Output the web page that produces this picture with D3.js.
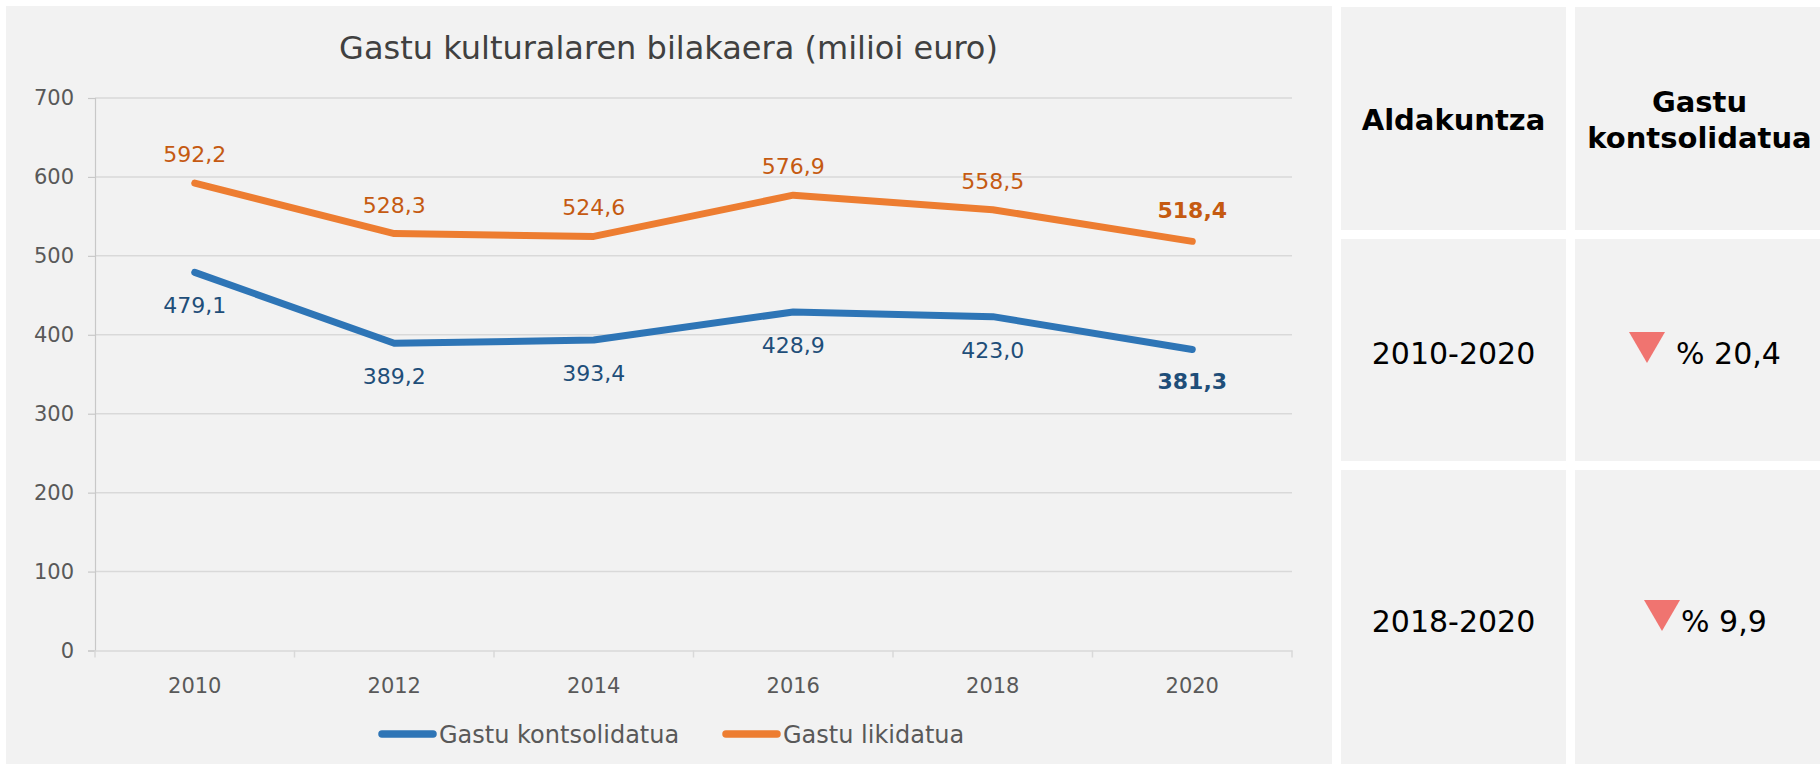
<!DOCTYPE html>
<html>
<head>
<meta charset="utf-8">
<script src="https://cdn.jsdelivr.net/npm/d3@7"></script>
<style>
  html, body { margin: 0; padding: 0; background: #ffffff; }
  svg { display: block; }
  text { font-family: "DejaVu Sans", Verdana, sans-serif; }
</style>
</head>
<body>
<svg id="chart" width="1820" height="764"></svg>
<script>
// ---- Data ----
const years = ["2010", "2012", "2014", "2016", "2018", "2020"];
const kontsolidatua = [479.1, 389.2, 393.4, 428.9, 423.0, 381.3];
const likidatua = [592.2, 528.3, 524.6, 576.9, 558.5, 518.4];
const seriesNames = ["Gastu kontsolidatua", "Gastu likidatua"];
const yTicks = [0, 100, 200, 300, 400, 500, 600, 700];
const chartTitle = "Gastu kulturalaren bilakaera (milioi euro)";
const tableHeaders = ["Aldakuntza", ["Gastu", "kontsolidatua"]];
const periods = ["2010-2020", "2018-2020"];
const changes = [20.4, 9.9];

// ---- Styles ----
const blue = "#2e75b6", orange = "#ed7d31";
const blueText = "#1f4e79", orangeText = "#c55a11";
const panelFill = "#f2f2f2";

const locale = d3.formatLocale({decimal: ",", thousands: ".", grouping: [3], currency: ["", "€"]});
const fmt = locale.format(".1f");

const svg = d3.select("#chart");

// Chart panel
svg.append("rect").attr("x", 6).attr("y", 6).attr("width", 1326).attr("height", 758).attr("fill", panelFill);

// Scales
const x = d3.scaleBand().domain(years).range([95, 1292]);
const y = d3.scaleLinear().domain([0, 700]).range([650.5, 98]);
const cx = d => x(d) + x.bandwidth() / 2;

// Title
svg.append("text").attr("x", 668.5).attr("y", 59).attr("text-anchor", "middle")
  .attr("font-size", 32).attr("fill", "#404040").text(chartTitle);

// Gridlines
svg.append("g").selectAll("line").data(yTicks.filter(t => t > 0)).join("line")
  .attr("x1", 95).attr("x2", 1292).attr("y1", d => y(d)).attr("y2", d => y(d))
  .attr("stroke", "#d9d9d9").attr("stroke-width", 1.5);

// Y axis
const yAxis = svg.append("g").attr("transform", "translate(95,0)")
  .call(d3.axisLeft(y).tickValues(yTicks).tickSize(7).tickPadding(14).tickFormat(d3.format("d")));
yAxis.select(".domain").attr("stroke", "#c8c8c8").attr("stroke-width", 1.2);
yAxis.selectAll(".tick line").attr("stroke", "#c8c8c8").attr("stroke-width", 1.2);
yAxis.selectAll(".tick text").attr("font-size", 21).attr("fill", "#595959")
  .attr("font-family", '"DejaVu Sans", Verdana, sans-serif');

// X axis
const xAxis = svg.append("g").attr("transform", `translate(0,${y(0)})`)
  .call(d3.axisBottom(x).tickSize(0).tickPadding(28));
xAxis.select(".domain").attr("stroke", "#d9d9d9").attr("stroke-width", 1.5);
xAxis.selectAll(".tick text").attr("font-size", 21).attr("fill", "#595959")
  .attr("font-family", '"DejaVu Sans", Verdana, sans-serif');
// category boundary tick marks
const bounds = years.map(d => x(d)).concat([x(years[years.length - 1]) + x.bandwidth()]);
svg.append("g").selectAll("line").data(bounds).join("line")
  .attr("x1", d => d).attr("x2", d => d).attr("y1", y(0)).attr("y2", y(0) + 7)
  .attr("stroke", "#d9d9d9").attr("stroke-width", 1.5);

// Lines
const line = d3.line().x((d, i) => cx(years[i])).y(d => y(d));
[[kontsolidatua, blue], [likidatua, orange]].forEach(([vals, col]) => {
  svg.append("path").datum(vals).attr("d", line).attr("fill", "none")
    .attr("stroke", col).attr("stroke-width", 7).attr("stroke-linecap", "round").attr("stroke-linejoin", "round");
});

// Data labels
const last = years.length - 1;
svg.append("g").selectAll("text").data(likidatua).join("text")
  .attr("x", (d, i) => cx(years[i])).attr("y", (d, i) => y(d) - (i === last ? 23.5 : 21))
  .attr("text-anchor", "middle").attr("font-size", 22)
  .attr("font-weight", (d, i) => i === last ? "bold" : "normal")
  .attr("fill", orangeText).text(d => fmt(d));
svg.append("g").selectAll("text").data(kontsolidatua).join("text")
  .attr("x", (d, i) => cx(years[i])).attr("y", (d, i) => y(d) + (i === last ? 39 : 41))
  .attr("text-anchor", "middle").attr("font-size", 22)
  .attr("font-weight", (d, i) => i === last ? "bold" : "normal")
  .attr("fill", blueText).text(d => fmt(d));

// Legend
const legendItems = [{name: seriesNames[0], col: blue, x: 382}, {name: seriesNames[1], col: orange, x: 726}];
const lg = svg.append("g").selectAll("g").data(legendItems).join("g");
lg.append("line").attr("x1", d => d.x).attr("x2", d => d.x + 51).attr("y1", 734).attr("y2", 734)
  .attr("stroke", d => d.col).attr("stroke-width", 7.5).attr("stroke-linecap", "round");
lg.append("text").attr("x", d => d.x + 57).attr("y", 743).attr("font-size", 24).attr("fill", "#595959")
  .text(d => d.name);

// ---- Table ----
const colX = [1341, 1575], colW = [225, 245];
const rowY = [7, 239, 470], rowH = [223, 222, 294];
for (let r = 0; r < 3; r++) for (let c = 0; c < 2; c++) {
  svg.append("rect").attr("x", colX[c]).attr("y", rowY[r]).attr("width", colW[c]).attr("height", rowH[r]).attr("fill", panelFill);
}
const colC = [colX[0] + colW[0] / 2, colX[1] + colW[1] / 2];
svg.append("text").attr("x", colC[0]).attr("y", 130).attr("text-anchor", "middle")
  .attr("font-size", 29).attr("font-weight", "bold").attr("fill", "#000").text(tableHeaders[0]);
svg.append("text").attr("x", colC[1] + 2).attr("y", 112).attr("text-anchor", "middle")
  .attr("font-size", 29).attr("font-weight", "bold").attr("fill", "#000")
  .selectAll("tspan").data(tableHeaders[1]).join("tspan")
  .attr("x", colC[1] + 2).attr("dy", (d, i) => i === 0 ? 0 : 36).text(d => d);

const rowBase = [364, 632];
const triLeft = [1629, 1644];
const textX = [1676, 1681];
const pctLabels = changes.map((v, i) => i === 0 ? "% " + fmt(v) : "% " + fmt(v));
periods.forEach((p, i) => {
  svg.append("text").attr("x", colC[0]).attr("y", rowBase[i]).attr("text-anchor", "middle")
    .attr("font-size", 30).attr("fill", "#000").text(p);
  const tl = triLeft[i], tt = rowBase[i] - 32;
  svg.append("path").attr("d", `M${tl},${tt}L${tl + 36},${tt}L${tl + 18},${tt + 31}Z`).attr("fill", "#f07470");
  svg.append("text").attr("x", textX[i]).attr("y", rowBase[i])
    .attr("font-size", 30).attr("fill", "#000").text(pctLabels[i]);
});
</script>
</body>
</html>
